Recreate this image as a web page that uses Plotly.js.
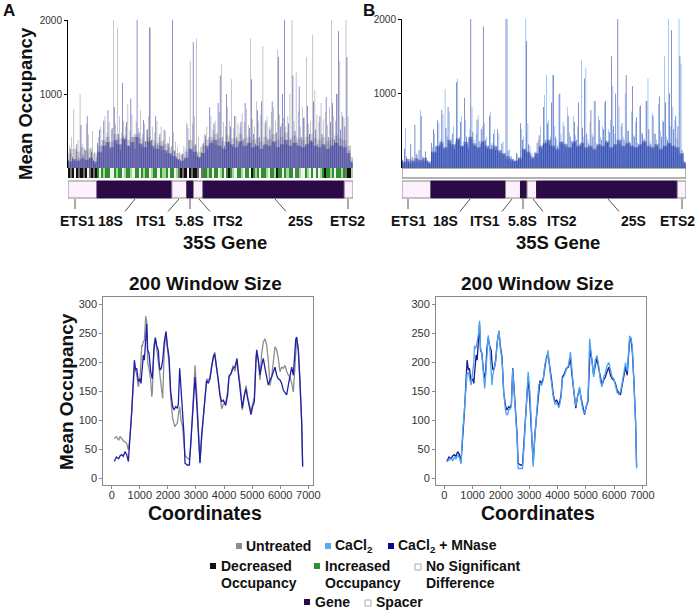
<!DOCTYPE html>
<html><head><meta charset="utf-8">
<script src="https://cdn.plot.ly/plotly-3.0.1.min.js"></script>
<style>body{margin:0;background:#fff}#chart{width:700px;height:610px}</style>
</head><body><div id="chart"></div>
<script>
// ---------- DATA ----------
const binSize = 50;    // bp per peak bin (top panels)
const coreSize = 100;  // bp per core bin (top panels)
// Peak mean occupancy per 50-bp bin (thin spikes)
const occUntreated = [300,420,800,250,380,1000,330,260,600,450,280,500,220,150,
 420,560,380,700,480,620,520,2000,600,1900,700,480,640,560,860,500,720,460,620,540,780,460,600,520,700,1900,560,480,640,420,560,380,500,340,420,300,
 480,360,280,220,180,300,260,540,1450,600,700,1750,420,280,320,460,
 560,420,700,520,640,480,760,1400,620,560,820,640,1200,540,700,600,560,740,620,800,580,1750,660,560,900,640,720,1650,600,700,560,760,820,640,1600,720,600,680,560,700,1000,2000,640,1300,760,560,820,680,1500,600,640,1800,1050,720,620,880,660,760,580,820,2000,700,640,1000,1450,760,680,
 2000,700,300,120];
const occMNase = [110,260,150,90,320,140,580,180,240,700,130,220,100,60,
 340,520,210,640,300,780,260,540,820,330,460,250,1150,380,620,300,940,420,260,2000,480,300,650,360,520,1900,380,260,700,310,460,240,520,200,330,180,
 2000,230,150,110,90,200,130,600,380,240,1700,320,180,130,210,340,
 440,260,820,380,600,310,880,1250,420,300,1000,360,560,280,700,420,330,620,380,880,300,540,1200,460,330,780,420,900,300,640,380,520,900,340,480,1500,560,1000,2000,320,600,380,1250,500,340,1100,420,680,300,840,460,380,900,520,320,700,460,300,960,420,620,880,380,1000,1850,520,700,
 560,1500,240,90];
const occCaCl2 = [80,540,120,60,150,90,200,110,780,160,90,130,70,50,
 280,460,200,600,380,720,1060,420,760,300,560,350,1200,420,700,360,640,300,520,820,380,460,700,320,560,600,420,300,760,340,520,280,460,240,360,200,
 2000,260,160,120,100,180,140,520,420,2000,600,300,200,140,220,380,
 560,300,980,1250,640,420,1250,560,380,980,460,620,340,820,480,360,700,440,560,320,1450,420,1350,380,620,460,900,340,700,420,560,880,380,520,640,1100,460,380,820,560,420,1000,500,360,760,440,620,340,820,480,400,900,1200,360,740,460,380,860,500,640,1500,420,2000,560,820,640,400,
 2000,1400,200,60];
// Dense core occupancy per 100-bp bin
const coreUntreated = [200,260,220,280,240,260,200,
 300,380,420,360,460,400,440,380,420,460,400,360,420,380,340,360,320,280,
 240,200,180,220,380,300,220,300,
 380,420,460,400,360,440,400,380,460,400,420,380,400,360,420,400,460,380,420,480,400,440,400,380,420,460,400,380,420,360,400,440,400,380,
 300,150];
const coreMNase = [90,120,100,130,110,140,90,
 220,300,350,280,380,320,400,300,350,420,330,280,360,300,260,300,240,200,
 160,120,100,140,260,220,150,200,
 300,340,380,300,260,350,320,280,360,300,340,280,300,260,320,300,360,280,320,380,300,340,300,280,320,360,300,280,320,260,300,340,300,280,
 200,80];
const coreCaCl2 = [60,80,70,90,80,100,70,
 200,280,320,260,360,300,380,280,320,400,300,260,340,280,240,280,220,180,
 120,90,80,110,240,200,120,180,
 280,320,360,280,240,330,300,260,340,280,320,260,280,240,300,280,340,260,300,360,280,320,280,260,300,340,280,260,300,240,280,320,280,260,
 180,60];
// Differential class per 50-bp bin: 0 decreased, 1 decreased (faint), 2 no significant difference, 3 increased, 4 increased (faint)
const diffClass = [0,1,0,2,0,1,0,1,0,2,1,0,1,0,
 3,2,3,4,3,3,2,2,3,4,3,3,2,4,3,3,4,2,3,3,2,3,4,3,3,2,4,3,3,2,3,4,4,3,2,3,
 3,2,4,1,0,1,0,2,0,1,0,0,1,2,1,3,
 3,4,3,2,3,3,2,4,3,2,3,0,3,4,2,3,3,4,2,3,3,2,0,3,4,3,2,3,3,4,2,3,3,4,0,3,3,2,3,4,3,3,2,1,3,4,2,2,3,4,2,3,2,3,2,4,3,0,3,3,4,3,2,3,3,4,3,
 1,0,0,4];
// 35S gene regions
const regionNames = ['ETS1','18S','ITS1','5.8S','ITS2','25S','ETS2'];
const regionStart = [0,700,2500,2861,3019,3251,6647];
const regionEnd   = [700,2500,2861,3019,3251,6647,6858];
const regionIsGene = [false,true,false,true,false,true,false];
// 200-bp window smoothed occupancy (bottom panels)
const winCoord = [90,167,246,300,356,410,473,533,592,651,712,806,854,889,948,1008,1044,1068,1091,1126,1162,1210,1246,1281,1328,1388,1427,1447,1506,1553,1600,1660,1686,1720,1767,1815,1873,1933,1981,2040,2100,2134,2170,2218,2253,2278,2337,2373,2420,2468,2515,2574,2610,2693,2764,2812,2906,2966,3025,3084,3143,3203,3297,3340,3380,3440,3499,3559,3618,3666,3737,3796,3855,3915,3974,4057,4128,4176,4247,4318,4389,4460,4508,4579,4650,4710,4781,4840,4900,4959,5018,5078,5139,5161,5220,5280,5339,5398,5458,5517,5576,5636,5695,5754,5814,5873,5932,5992,6051,6111,6170,6229,6289,6348,6408,6467,6526,6553,6586,6645,6704,6763,6799];
const winMNase = [29,37,34,39,41,38,46,41,29,69,115,204,187,190,167,172,164,180,198,213,204,241,267,221,216,184,175,172,224,242,229,221,200,187,190,204,236,254,229,210,149,135,124,118,124,124,121,129,190,158,121,75,26,23,23,57,132,175,132,75,26,75,132,160,169,164,172,192,210,215,192,169,144,132,135,126,144,175,181,190,192,207,181,155,121,141,155,138,121,110,124,132,205,222,204,178,195,207,190,172,161,170,175,184,192,178,172,170,164,152,147,144,161,175,192,178,218,240,244,221,167,98,20];
const winUntreated = [69,72,66,72,69,65,63,60,49,72,115,190,185,180,158,175,205,230,228,236,238,280,270,200,190,169,141,150,230,244,225,200,185,170,150,138,224,251,225,200,140,118,103,95,89,92,95,110,124,100,92,60,40,35,32,55,130,195,150,85,28,70,128,155,172,168,175,195,212,218,190,165,135,120,128,130,150,178,180,195,185,204,185,160,118,135,160,140,125,115,128,140,210,215,205,170,215,235,241,230,204,160,175,205,227,222,207,184,192,190,195,185,178,175,165,149,205,230,240,225,170,100,22];
const winCaCl2 = [29,31,34,30,37,33,40,36,25,80,120,181,182,175,161,185,200,229,224,226,235,250,272,225,215,172,155,165,220,247,230,185,161,180,192,200,235,255,225,205,150,126,115,109,112,118,120,126,188,150,118,70,17,17,17,50,130,184,150,80,20,72,130,162,165,160,170,198,205,221,185,160,140,128,130,122,140,172,178,188,195,218,184,150,125,140,158,135,118,112,122,135,241,230,210,175,205,212,195,168,158,175,182,195,200,188,175,172,158,148,145,150,165,180,200,185,230,245,244,230,165,95,17];

// ---------- HELPERS ----------
const W = 700, H = 610;
const px = x => x / W;
const py = y => 1 - y / H;
const FONT = 'Liberation Sans, Arial, sans-serif';
const binMid = occMNase.map((_, i) => i * binSize + binSize / 2);
const coreMid = coreMNase.map((_, i) => i * coreSize + coreSize / 2);

// ---------- TRACES ----------
const traces = [];
function spikes(y, xa, ya, color, off) {
  traces.push({type:'bar', x:binMid, y:y, xaxis:xa, yaxis:ya, width:14, offset:off,
    marker:{color:color, line:{width:0}}, hoverinfo:'skip'});
}
function core(y, xa, ya, color) {
  traces.push({type:'bar', x:coreMid, y:y, xaxis:xa, yaxis:ya, width:coreSize,
    marker:{color:color, line:{width:0}}, hoverinfo:'skip'});
}
// Panel A top
core(coreUntreated, 'x', 'y', 'rgba(150,150,150,0.4)');
spikes(occUntreated, 'x', 'y', 'rgba(145,145,145,0.9)', 8);
core(coreMNase, 'x', 'y', 'rgba(30,30,150,0.42)');
spikes(occMNase, 'x', 'y', 'rgba(35,35,170,0.88)', -20);
traces.push({type:'heatmap', x:binMid, y:[0.5], z:[diffClass], xaxis:'x', yaxis:'y2', zmin:0, zmax:4, showscale:false, hoverinfo:'skip',
  colorscale:[[0,'#111111'],[0.2,'#111111'],[0.2,'#707070'],[0.4,'#707070'],[0.4,'#f2f2f2'],[0.6,'#f2f2f2'],[0.6,'#2f8f2f'],[0.8,'#2f8f2f'],[0.8,'#a3d69c'],[1,'#a3d69c']]});
// Panel B top
core(coreCaCl2, 'x2', 'y3', 'rgba(80,160,245,0.45)');
spikes(occCaCl2, 'x2', 'y3', 'rgba(80,160,245,0.95)', 8);
core(coreMNase, 'x2', 'y3', 'rgba(20,20,140,0.38)');
spikes(occMNase, 'x2', 'y3', 'rgba(25,25,140,0.85)', -20);
// Bottom left
traces.push({type:'scatter', mode:'lines', x:winCoord, y:winUntreated, xaxis:'x3', yaxis:'y4', line:{color:'#8e8e8e', width:1.3}, hoverinfo:'skip'});
traces.push({type:'scatter', mode:'lines', x:winCoord, y:winMNase, xaxis:'x3', yaxis:'y4', line:{color:'#1f1fa8', width:1.3}, hoverinfo:'skip'});
// Bottom right
traces.push({type:'scatter', mode:'lines', x:winCoord, y:winMNase, xaxis:'x4', yaxis:'y5', line:{color:'#1a1a8c', width:1.3}, hoverinfo:'skip'});
traces.push({type:'scatter', mode:'lines', x:winCoord, y:winCaCl2, xaxis:'x4', yaxis:'y5', line:{color:'#4aa3f5', width:1.3}, hoverinfo:'skip'});

// ---------- AXES ----------
const topY = {range:[0,2000], tickvals:[1000,2000], showline:true, linecolor:'#000', linewidth:1, ticks:'outside', ticklen:3, tickcolor:'#000',
  tickfont:{family:FONT, size:10, color:'#333'}, showgrid:false, zeroline:false, fixedrange:true};
const botX = {tickvals:[0,1000,2000,3000,4000,5000,6000,7000], showline:true, mirror:true, linecolor:'#8a8a8a', linewidth:1,
  ticks:'outside', ticklen:3, tickcolor:'#8a8a8a', ticklabelstandoff:-3, tickfont:{family:FONT, size:11, color:'#333'}, showgrid:false, zeroline:false};
const botY = {range:[-11.5,312.6], tickvals:[0,50,100,150,200,250,300], showline:true, mirror:true, linecolor:'#8a8a8a', linewidth:1,
  ticks:'outside', ticklen:3, tickcolor:'#8a8a8a', tickfont:{family:FONT, size:11, color:'#333'}, showgrid:false, zeroline:false};

const layout = {
  width:W, height:H, margin:{l:0,r:0,t:0,b:0}, paper_bgcolor:'#fff', plot_bgcolor:'rgba(0,0,0,0)',
  showlegend:false, barmode:'overlay', font:{family:FONT},
  xaxis:{domain:[px(68),px(353)], range:[0,6858], visible:false, anchor:'y'},
  yaxis:Object.assign({domain:[py(168),py(20)], anchor:'x'}, topY),
  yaxis2:{domain:[py(178),py(168)], range:[0,1], visible:false, anchor:'x'},
  xaxis2:{domain:[px(402),px(686)], range:[0,6858], visible:false, anchor:'y3'},
  yaxis3:Object.assign({domain:[py(168),py(19)], anchor:'x2'}, topY),
  xaxis3:Object.assign({}, botX, {domain:[px(103.3),px(313.3)], range:[-300,7178], anchor:'y4'}),
  yaxis4:Object.assign({}, botY, {domain:[py(485),py(297.3)], anchor:'x3'}),
  xaxis4:Object.assign({}, botX, {domain:[px(436),px(646)], range:[-293,7131], anchor:'y5'}),
  yaxis5:Object.assign({}, botY, {domain:[py(485),py(297.3)], anchor:'x4'}),
  shapes:[], annotations:[]
};

// ---------- GENE BARS ----------
['x','x2'].forEach(xr => {
  regionNames.forEach((n, i) => {
    layout.shapes.push({type:'rect', xref:xr, yref:'paper', x0:regionStart[i], x1:regionEnd[i], y0:py(198), y1:py(181),
      fillcolor: regionIsGene[i] ? '#2b0a45' : '#fcf1fc', line:{color: regionIsGene[i] ? '#2b0a45' : '#8a8a8a', width:1}, layer:'above'});
  });
});
// B strip (no significant difference everywhere)
layout.shapes.push({type:'rect', xref:'x2', yref:'paper', x0:0, x1:6858, y0:py(178), y1:py(168), fillcolor:'#fff', line:{color:'#666', width:1}});

// label connector lines and labels
const labA = {x:[77,111,151,189,228,300,347], l:[[75,75],[135,125],[179,168],[190,190],[199,210],[275,286],[348,348]]};
const labB = {x:[408,445,485,522,562,633,677], l:[[408,408],[470,460],[512,502],[523,523],[533,543],[608,619],[682,682]]};
function ann(text, x, y, size, extra) {
  layout.annotations.push(Object.assign({text:text, xref:'paper', yref:'paper', x:px(x), y:py(y), xanchor:'center', yanchor:'middle',
    showarrow:false, font:{family:FONT, size:size, color:'#111'}}, extra || {}));
}
[labA, labB].forEach(L => {
  regionNames.forEach((n, i) => {
    const straight = L.l[i][0] === L.l[i][1];
    layout.shapes.push({type:'line', xref:'paper', yref:'paper', x0:px(L.l[i][0]), x1:px(L.l[i][1]), y0:py(199), y1:py(straight ? 209 : 211.5),
      line:{color:'#555', width:1}});
    ann('<b>'+n+'</b>', L.x[i], 221, 14);
  });
});
ann('<b>35S Gene</b>', 225, 243, 18.5);
ann('<b>35S Gene</b>', 558, 243, 18.5);
ann('<b>A</b>', 9, 10, 17);
ann('<b>B</b>', 369, 10, 17);
ann('<b>Mean Occupancy</b>', 25, 104, 18.5, {textangle:-90});
ann('<b>Mean Occupancy</b>', 66, 392, 19, {textangle:-90});
ann('<b>200 Window Size</b>', 205, 283, 19);
ann('<b>200 Window Size</b>', 537, 283, 19);
ann('<b>Coordinates</b>', 205, 513, 19.5);
ann('<b>Coordinates</b>', 537.5, 513, 19.5);

// ---------- LEGEND ----------
function sq(cx, cy, color, border) {
  layout.shapes.push({type:'rect', xref:'paper', yref:'paper', x0:px(cx-3), x1:px(cx+3), y0:py(cy+3), y1:py(cy-3),
    fillcolor:color, line:{color: border || color, width: border ? 1 : 0}});
}
function legText(text, x, y) { ann('<b>'+text+'</b>', x, y, 14, {xanchor:'left'}); }
sq(239,546,'#8c8c8c'); legText('Untreated', 244, 546);
sq(328,546,'#5aaaf0'); legText('CaCl<sub>2</sub>', 333, 546);
sq(391,546,'#0a0a8c'); legText('CaCl<sub>2</sub> + MNase', 396, 546);
sq(213,566,'#111'); legText('Decreased', 219, 566); legText('Occupancy', 219, 583);
sq(317,566,'#2f8f2f'); legText('Increased', 323, 566); legText('Occupancy', 323, 583);
sq(418,567,'#fff','#aaa'); legText('No Significant', 424, 566); legText('Difference', 424, 583);
sq(307,602,'#2b0a45'); legText('Gene', 313, 602);
sq(368,603,'#fff','#aaa'); legText('Spacer', 374, 602);

Plotly.newPlot('chart', traces, layout, {displayModeBar:false, staticPlot:true});
</script></body></html>
